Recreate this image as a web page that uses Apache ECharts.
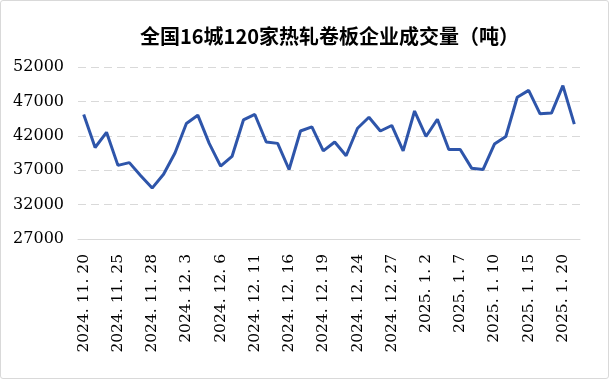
<!doctype html>
<html>
    <head>
        <meta charset="utf-8">
        <title>热轧卷板企业成交量</title>
        <style>
            html, body { margin: 0; padding: 0; background: #fff; }
            #main { width: 609px; height: 379px; box-sizing: border-box; border: 1px solid #d9d9d9; border-radius: 3px; }
        </style>
    </head>
    <body>
        <div id="main"></div>
        <script src="https://cdn.jsdelivr.net/npm/echarts@6/dist/echarts.min.js"></script>
        <script>
            var titleText = '全国16城120家热轧卷板企业成交量（吨）';

            var dates = [
                '2024.11.20', '2024.11.21', '2024.11.22', '2024.11.25', '2024.11.26', '2024.11.27',
                '2024.11.28', '2024.11.29', '2024.12.2', '2024.12.3', '2024.12.4', '2024.12.5',
                '2024.12.6', '2024.12.9', '2024.12.10', '2024.12.11', '2024.12.12', '2024.12.13',
                '2024.12.16', '2024.12.17', '2024.12.18', '2024.12.19', '2024.12.20', '2024.12.23',
                '2024.12.24', '2024.12.25', '2024.12.26', '2024.12.27', '2024.12.30', '2024.12.31',
                '2025.1.2', '2025.1.3', '2025.1.6', '2025.1.7', '2025.1.8', '2025.1.9',
                '2025.1.10', '2025.1.13', '2025.1.14', '2025.1.15', '2025.1.16', '2025.1.17',
                '2025.1.20', '2025.1.21'
            ];

            var volume = [
                45100, 40300, 42500, 37700, 38100, 36200,
                34400, 36400, 39500, 43800, 45000, 40900,
                37600, 39000, 44300, 45100, 41100, 40900,
                37100, 42700, 43300, 39800, 41100, 39100,
                43100, 44700, 42700, 43500, 39800, 45600,
                41900, 44400, 40000, 40000, 37300, 37100,
                40800, 41900, 47600, 48600, 45200, 45300,
                49300, 43700
            ];

            // y axis runs 27000..52000 by 5000; ticks are counted from the base
            var yBase = 27000;
            var yTop = 52000;
            var yStep = 5000;

            var chart = echarts.init(document.getElementById('main'));

            chart.setOption({
                animation: false,
                title: {
                    text: titleText,
                    left: 134,
                    top: 20,
                    textStyle: {
                        fontFamily: 'Noto Sans CJK SC',
                        fontSize: 20,
                        fontWeight: 'bold',
                        color: '#000'
                    }
                },
                grid: {
                    left: 77,
                    right: 28,
                    top: 66,
                    bottom: 139
                },
                xAxis: {
                    type: 'category',
                    data: dates,
                    boundaryGap: true,
                    axisLine: { lineStyle: { color: '#d9d9d9', width: 1 } },
                    axisTick: { show: false },
                    axisLabel: {
                        interval: 2,
                        rotate: 90,
                        margin: 15,
                        fontFamily: 'DejaVu Serif',
                        fontSize: 15.5,
                        color: '#000',
                        formatter: function (v) { return v.replace(/\./g, '. '); }
                    }
                },
                yAxis: {
                    type: 'value',
                    min: 0,
                    max: yTop - yBase,
                    interval: yStep,
                    axisLine: { show: false },
                    axisTick: { show: false },
                    splitLine: { lineStyle: { color: '#d9d9d9', type: [8, 5], width: 1 } },
                    axisLabel: {
                        margin: 14,
                        fontFamily: 'DejaVu Serif',
                        fontSize: 16,
                        color: '#000',
                        formatter: function (v) { return String(v + yBase); }
                    }
                },
                series: [{
                    type: 'line',
                    data: volume.map(function (v) { return v - yBase; }),
                    symbol: 'none',
                    lineStyle: { color: '#2e55aa', width: 3 },
                    itemStyle: { color: '#2e55aa' }
                }]
            });
        </script>
    </body>
</html>
